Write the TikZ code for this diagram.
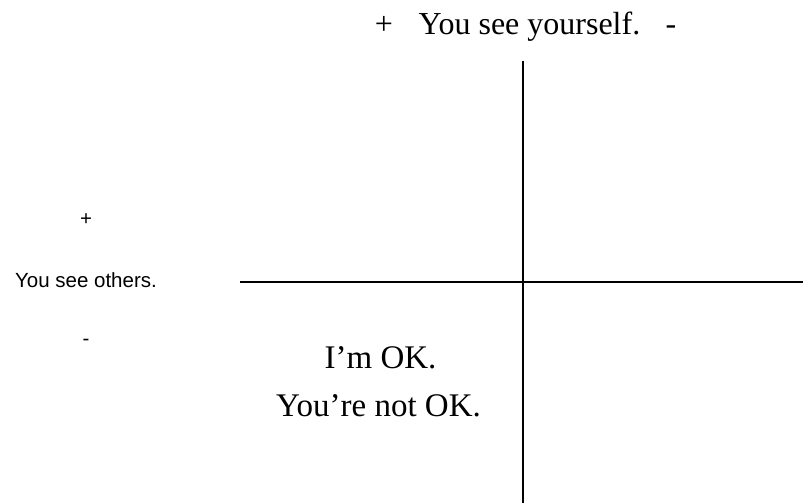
\documentclass[tikz,border=0pt]{standalone}
\usepackage{fontspec}
\setmainfont{Liberation Serif}
\newfontfamily\arialfont{Liberation Sans}
\begin{document}
\begin{tikzpicture}[x=1pt,y=1pt,
  serif/.style={inner sep=0pt,anchor=base,font=\fontsize{32}{36}\selectfont},
  serifbig/.style={inner sep=0pt,anchor=base,font=\fontsize{33}{38}\selectfont},
  sans/.style={inner sep=0pt,anchor=base,font=\arialfont\fontsize{20.5}{24}\selectfont},
  axis/.style={line width=2pt}]
\useasboundingbox (0,0) rectangle (803,503);
% title
\node[serif] (tplus) at (384,468) {+};
\node[serif] (title) at (529.5,468) {You see yourself.};
\node[serif] (tminus) at (671,468) {-};
% left labels
\node[sans] (lplus) at (86,277) {+};
\node[sans] (others) at (86,215) {You see others.};
\node[sans] (lminus) at (86,157) {-};
% quadrant text
\node[serifbig] (imok) at (380.5,134) {I’m OK.};
\node[serifbig] (notok) at (378.5,86) {You’re not OK.};
% axes
\coordinate (vtop) at (523,442);
\coordinate (vbot) at (523,0);
\coordinate (hleft) at (240,221);
\coordinate (hright) at (803,221);
\draw[axis] (vtop) -- (vbot);
\draw[axis] (hleft) -- (hright);
\end{tikzpicture}
\end{document}
